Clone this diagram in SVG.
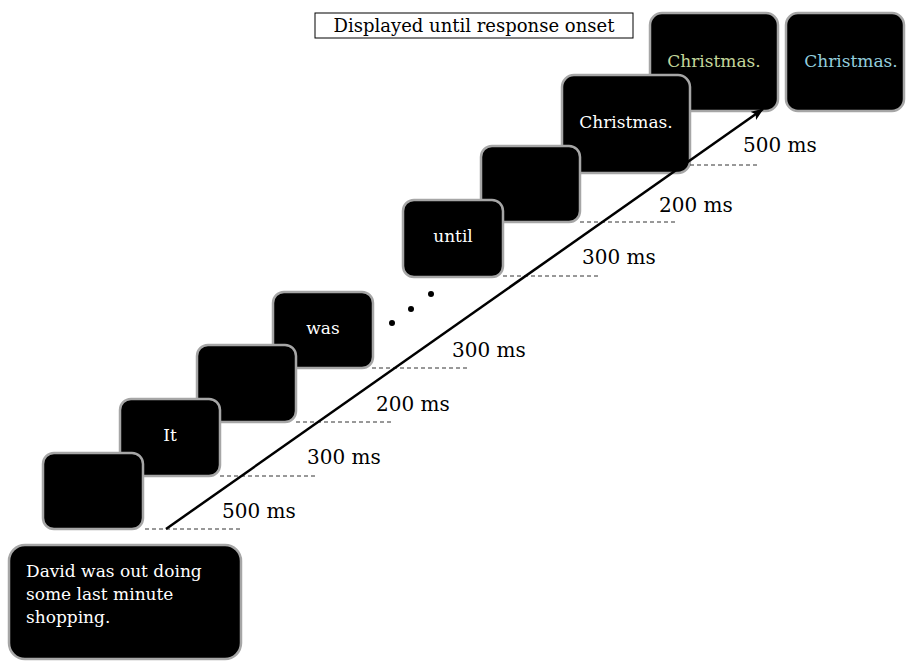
<svg xmlns="http://www.w3.org/2000/svg" width="906" height="661" viewBox="0 0 906 661">
<style>
.scr{fill:#000;stroke:#a6a6a6;stroke-width:2.5}
.w{font-family:"DejaVu Serif","Liberation Serif",serif;font-size:17px;fill:#fff;text-anchor:middle}
.lbl{font-family:"DejaVu Serif","Liberation Serif",serif;font-size:20px;fill:#000}
.dash{stroke:#333;stroke-width:1;stroke-dasharray:4 3;fill:none}
</style>
<defs>
<marker id="ah" markerWidth="13" markerHeight="10" refX="12" refY="5" orient="auto" markerUnits="userSpaceOnUse">
<path d="M0,0 L13,5 L0,10 L3,5 Z" fill="#000"/>
</marker>
</defs>
<rect width="906" height="661" fill="#fff"/>
<g id="label-box">
<rect x="315" y="13" width="318" height="25" fill="#fff" stroke="#000" stroke-width="1"/>
<text x="474" y="32" font-family="DejaVu Serif, Liberation Serif, serif" font-size="18" text-anchor="middle" fill="#000">Displayed until response onset</text>
</g>
<g id="screen-blue">
<rect class="scr" x="786" y="13" width="118" height="98" rx="12"/>
<text class="w" x="851" y="67" style="fill:#93cddd">Christmas.</text>
</g>
<g id="screen-green">
<rect class="scr" x="650" y="13" width="128" height="98" rx="12"/>
<text class="w" x="714" y="67" style="fill:#c3d69b">Christmas.</text>
</g>
<g id="screen-christmas">
<rect class="scr" x="562" y="75" width="128" height="98" rx="12"/>
<text class="w" x="626" y="128">Christmas.</text>
</g>
<g id="screen-blank3">
<rect class="scr" x="481" y="146" width="99" height="76" rx="11"/>
</g>
<g id="screen-until">
<rect class="scr" x="403" y="200" width="100" height="77" rx="11"/>
<text class="w" x="453" y="242">until</text>
</g>
<g id="screen-was">
<rect class="scr" x="273" y="292" width="100" height="76" rx="11"/>
<text class="w" x="323" y="334">was</text>
</g>
<g id="screen-blank2">
<rect class="scr" x="197" y="345" width="99" height="77" rx="11"/>
</g>
<g id="screen-it">
<rect class="scr" x="120" y="399" width="100" height="77" rx="11"/>
<text class="w" x="170" y="441">It</text>
</g>
<g id="screen-blank1">
<rect class="scr" x="43" y="453" width="100" height="76" rx="11"/>
</g>
<g id="screen-context">
<rect class="scr" x="9" y="545" width="232" height="114" rx="16"/>
<text class="w" style="text-anchor:start" x="26" y="577">David was out doing</text>
<text class="w" style="text-anchor:start" x="26" y="600">some last minute</text>
<text class="w" style="text-anchor:start" x="26" y="623">shopping.</text>
</g>
<g id="ellipsis">
<circle cx="392" cy="323" r="3" fill="#000"/>
<circle cx="411" cy="309" r="3" fill="#000"/>
<circle cx="431" cy="294" r="3" fill="#000"/>
</g>
<g id="connectors">
<line class="dash" x1="145" y1="529" x2="243" y2="529"/>
<line class="dash" x1="220" y1="476" x2="315" y2="476"/>
<line class="dash" x1="296" y1="422" x2="393" y2="422"/>
<line class="dash" x1="372" y1="368" x2="470" y2="368"/>
<line class="dash" x1="503" y1="276" x2="600" y2="276"/>
<line class="dash" x1="580" y1="222" x2="676" y2="222"/>
<line class="dash" x1="690" y1="165" x2="758" y2="165"/>
<line x1="166" y1="529" x2="763" y2="109" stroke="#000" stroke-width="2.5" marker-end="url(#ah)"/>
</g>
<g id="durations">
<text class="lbl" x="222" y="518">500 ms</text>
<text class="lbl" x="307" y="464">300 ms</text>
<text class="lbl" x="376" y="411">200 ms</text>
<text class="lbl" x="452" y="357">300 ms</text>
<text class="lbl" x="582" y="264">300 ms</text>
<text class="lbl" x="659" y="212">200 ms</text>
<text class="lbl" x="743" y="152">500 ms</text>
</g>
</svg>
